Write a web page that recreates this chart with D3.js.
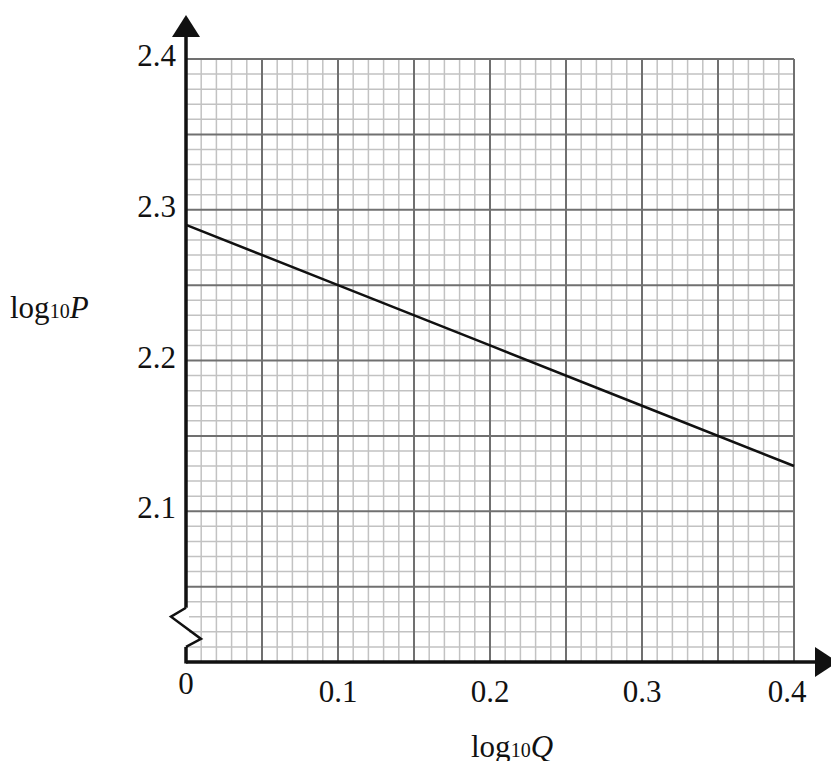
<!DOCTYPE html>
<html>
<head>
<meta charset="utf-8"/>
<title>log10P against log10Q</title>
<script src="https://cdn.jsdelivr.net/npm/d3@7/dist/d3.min.js"></script>
<style>
  body { margin: 0; background: #fff; }
  text { font-family: "Liberation Serif", "Times New Roman", serif; fill: #111; }
</style>
</head>
<body>
<svg id="chart" width="831" height="761"></svg>
<script>
// data
var logQ = [0, 0.1, 0.2, 0.3, 0.4];
var logP = [2.29, 2.25, 2.21, 2.17, 2.13];
var xTickLabels = ['0', '0.1', '0.2', '0.3', '0.4'];
var yTickLabels = ['2.1', '2.2', '2.3', '2.4'];

var svg = d3.select('#chart');

var x = d3.scaleLinear().domain([0, 0.4]).range([186, 794]);
var y = d3.scaleLinear().domain([2.0, 2.4]).range([662, 59]);

// graph paper: minor every 0.01, major every 0.05
var minorX = d3.range(0, 41).map(function(i) { return i / 100; });
var minorY = d3.range(0, 41).map(function(i) { return 2 + i / 100; });

var grid = svg.append('g');
grid.selectAll('.vminor').data(minorX.filter(function(d, i) { return i % 5; }))
  .enter().append('line')
  .attr('x1', x).attr('x2', x).attr('y1', y(2.0)).attr('y2', y(2.4))
  .attr('stroke', '#c2c2c2').attr('stroke-width', 1.5);
grid.selectAll('.hminor').data(minorY.filter(function(d, i) { return i % 5; }))
  .enter().append('line')
  .attr('y1', y).attr('y2', y).attr('x1', x(0)).attr('x2', x(0.4))
  .attr('stroke', '#c2c2c2').attr('stroke-width', 1.5);
grid.selectAll('.vmajor').data(minorX.filter(function(d, i) { return i % 5 === 0; }))
  .enter().append('line')
  .attr('x1', x).attr('x2', x).attr('y1', y(2.0)).attr('y2', y(2.4))
  .attr('stroke', '#707070').attr('stroke-width', 2);
grid.selectAll('.hmajor').data(minorY.filter(function(d, i) { return i % 5 === 0; }))
  .enter().append('line')
  .attr('y1', y).attr('y2', y).attr('x1', x(0)).attr('x2', x(0.4))
  .attr('stroke', '#707070').attr('stroke-width', 2);

// the plotted line
svg.append('path')
  .datum(logQ.map(function(q, i) { return [q, logP[i]]; }))
  .attr('fill', 'none').attr('stroke', '#111').attr('stroke-width', 2.5)
  .attr('d', d3.line().x(function(d) { return x(d[0]); }).y(function(d) { return y(d[1]); }));

// axes with arrow heads
var x0 = x(0), y0 = y(2.0);
svg.append('line').attr('x1', x0).attr('x2', 818).attr('y1', y0).attr('y2', y0)
  .attr('stroke', '#111').attr('stroke-width', 3.5);
svg.append('line').attr('x1', x0).attr('x2', x0).attr('y1', y0 + 1.5).attr('y2', 35)
  .attr('stroke', '#111').attr('stroke-width', 3.5);
svg.append('path').attr('d', 'M' + x0 + ',15 L' + (x0 - 14) + ',37 L' + (x0 + 14) + ',37 Z')
  .attr('fill', '#111');
svg.append('path').attr('d', 'M838,' + y0 + ' L815,' + (y0 - 15) + ' L815,' + (y0 + 15) + ' Z')
  .attr('fill', '#111');

// broken-axis zigzag
svg.append('rect').attr('x', x0 - 3).attr('y', y(2.036)).attr('width', 6)
  .attr('height', y(2.01) - y(2.036)).attr('fill', '#fff');
svg.append('path')
  .attr('d', 'M' + x0 + ',' + y(2.036) + ' L' + (x0 - 15) + ',' + (y(2.036) + 9) +
             ' L' + (x0 + 15) + ',' + (y(2.01) - 8) + ' L' + x0 + ',' + y(2.01))
  .attr('fill', 'none').attr('stroke', '#111').attr('stroke-width', 2.5);

// tick labels
svg.selectAll('.ylab').data(yTickLabels).enter().append('text')
  .attr('x', x0 - 10).attr('y', function(d) { return y(+d) + 7; })
  .attr('text-anchor', 'end').attr('font-size', 31).text(function(d) { return d; });
svg.selectAll('.xlab').data(xTickLabels).enter().append('text')
  .attr('x', function(d) { return x(+d) - (d === '0.4' ? 7 : 0); })
  .attr('y', function(d) { return d === '0' ? 694 : 702; })
  .attr('text-anchor', 'middle').attr('font-size', 31).text(function(d) { return d; });

// axis titles
var yt = svg.append('text').attr('x', 10).attr('y', 318).attr('font-size', 31);
yt.append('tspan').text('log');
yt.append('tspan').attr('font-size', 20).text('10');
yt.append('tspan').attr('font-style', 'italic').text('P');

var xt = svg.append('text').attr('x', 471).attr('y', 757).attr('font-size', 31);
xt.append('tspan').text('log');
xt.append('tspan').attr('font-size', 20).text('10');
xt.append('tspan').attr('font-style', 'italic').text('Q');
</script>
</body>
</html>
